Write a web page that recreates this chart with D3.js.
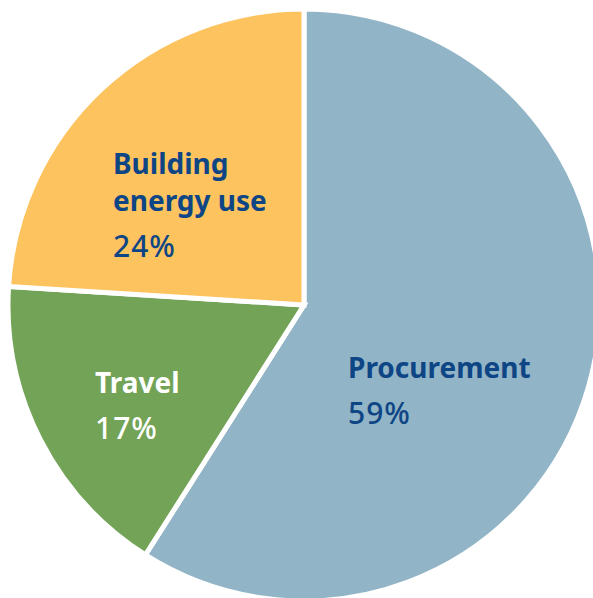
<!DOCTYPE html>
<html lang="en">
    <head>
        <meta charset="UTF-8" />
        <title>Emissions pie</title>
        <style>
            body { margin: 0; background: #fff; }
            text { font-family: "Noto Sans", "Open Sans", sans-serif; }
        </style>
    </head>
    <body>
        <svg class="pie"></svg>

        <script src="https://d3js.org/d3.v7.min.js"></script>
        <script>
            const categories = ['Procurement', 'Travel', 'Building energy use']
            const values = [59, 17, 24]
            const labelLines = [['Procurement'], ['Travel'], ['Building', 'energy use']]
            const pctLabels = ['59%', '17%', '24%']

            const width = 593, height = 598
            const cx = 304, cy = 305, radius = 296

            const colorScale = d3.scaleOrdinal()
              .domain(categories)
              .range(['#91b4c6', '#72a356', '#fdc35e'])

            const textColor = d3.scaleOrdinal()
              .domain(categories)
              .range(['#0e4585', '#ffffff', '#0e4585'])

            // label anchor (left x, baseline of first line) per slice
            const labelPos = {
              'Procurement': [348, 378],
              'Travel': [95, 393],
              'Building energy use': [113, 174]
            }

            const svg = d3.select('.pie')
              .attr('width', width)
              .attr('height', height)

            const pie = d3.pie().sort(null).value(d => d.value)
            const data = categories.map((c, i) => ({ key: c, value: values[i], lines: labelLines[i], pct: pctLabels[i] }))
            const arcs = pie(data)

            const arc = d3.arc().innerRadius(0).outerRadius(radius)

            const g = svg.append('g').attr('transform', `translate(${cx},${cy})`)

            g.selectAll('path')
              .data(arcs)
              .join('path')
              .attr('d', arc)
              .attr('fill', d => colorScale(d.data.key))
              .attr('stroke', '#fff')
              .attr('stroke-width', 5)
              .attr('stroke-linejoin', 'miter')

            // labels
            const lab = svg.selectAll('g.lab')
              .data(arcs)
              .join('g')
              .attr('class', 'lab')
              .attr('fill', d => textColor(d.data.key))

            lab.each(function (d) {
              const [x, y] = labelPos[d.data.key]
              const el = d3.select(this)
              d.data.lines.forEach((line, i) => {
                el.append('text')
                  .attr('x', x)
                  .attr('y', y + i * 37)
                  .attr('font-size', 28)
                  .attr('font-weight', 'bold')
                  .text(line)
              })
              const nLines = d.data.lines.length
              el.append('text')
                .attr('x', x)
                .attr('y', y + (nLines - 1) * 37 + 46)
                .attr('font-size', 30)
                .attr('font-weight', 500)
                .attr('letter-spacing', 1)
                .text(d.data.pct)
            })
        </script>
    </body>
</html>
